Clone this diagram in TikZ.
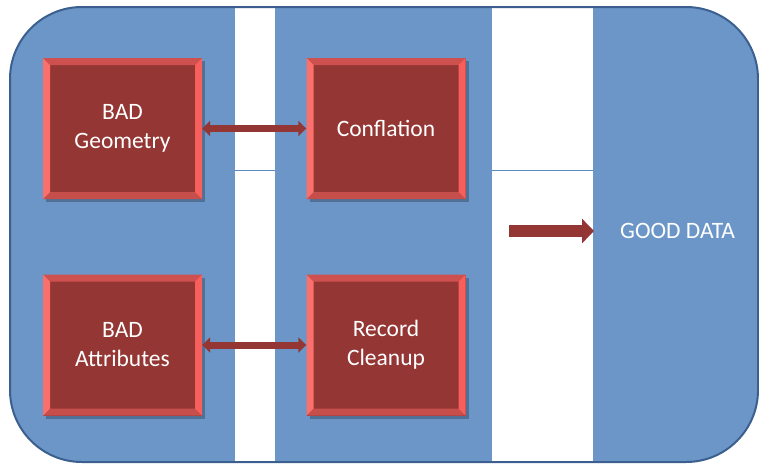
\documentclass[tikz,border=0pt]{standalone}
\usepackage{fontspec}
\setmainfont{Carlito}
\usetikzlibrary{arrows.meta,shadows}
\definecolor{bgblue}{RGB}{107,150,199}
\definecolor{edgeblue}{RGB}{59,95,142}
\definecolor{lineblue}{RGB}{91,139,197}
\definecolor{inred}{RGB}{148,54,52}
\definecolor{toptrap}{RGB}{207,81,79}
\definecolor{bottrap}{RGB}{198,78,75}
\definecolor{lefttrap}{RGB}{250,112,108}
\definecolor{righttrap}{RGB}{247,95,92}
\definecolor{arrred}{RGB}{148,54,52}
\tikzset{
  bevelbox/.style={
    minimum width=159pt, minimum height=141pt, inner sep=0pt,
    fill=inred, text=white, align=center,
    font=\fontsize{23.5}{29}\selectfont,
    drop shadow={shadow xshift=3pt, shadow yshift=-3pt, opacity=0.25, fill=black},
    path picture={
      \def\bw{7pt}
      \coordinate (NW) at (path picture bounding box.north west);
      \coordinate (NE) at (path picture bounding box.north east);
      \coordinate (SW) at (path picture bounding box.south west);
      \coordinate (SE) at (path picture bounding box.south east);
      \fill[toptrap] (NW) -- (NE) -- ([shift={(-\bw,-\bw)}]NE) -- ([shift={(\bw,-\bw)}]NW) -- cycle;
      \fill[bottrap] (SW) -- (SE) -- ([shift={(-\bw,\bw)}]SE) -- ([shift={(\bw,\bw)}]SW) -- cycle;
      \fill[lefttrap] (NW) -- (SW) -- ([shift={(\bw,\bw)}]SW) -- ([shift={(\bw,-\bw)}]NW) -- cycle;
      \fill[righttrap] (NE) -- (SE) -- ([shift={(-\bw,\bw)}]SE) -- ([shift={(-\bw,-\bw)}]NE) -- cycle;
    }
  },
  dblarrow/.style={arrred, line width=7pt,
    {Triangle[width=15pt,length=8pt]}-{Triangle[width=15pt,length=8pt]}, shorten <=0pt, shorten >=0pt},
  bigarrow/.style={arrred, line width=12pt, -{Triangle[width=24pt,length=12pt]}},
  whitestrip/.style={fill=white, draw=none},
  thinline/.style={lineblue, line width=1pt},
  lbl/.style={text=white, font=\fontsize{23.5}{29}\selectfont, inner sep=0pt}
}
\begin{document}
\begin{tikzpicture}[x=1pt,y=-1pt]
\useasboundingbox (0,0) rectangle (759,464);
\begin{scope}
\clip (0,0) rectangle (759,464);
\fill[bgblue, rounded corners=72pt] (10,7) rectangle (758,462);
\fill[whitestrip] (235,8) rectangle (275,461);
\fill[whitestrip] (492,8) rectangle (593,461);
\draw[thinline] (235,170) -- (275,170);
\draw[thinline] (492,170) -- (593,170);
\draw[edgeblue, line width=2pt, rounded corners=72pt] (10,7) rectangle (758,462);
\end{scope}

\node[bevelbox] (geo) at (122.5,128.5) {BAD\\Geometry};
\node[bevelbox] (conf) at (386,128.5) {Conflation};
\node[bevelbox] (attr) at (122.5,345) {BAD\\Attributes};
\node[bevelbox] (rec) at (386,345) {Record\\Cleanup};

\draw[dblarrow] (geo.east) -- (conf.west);
\draw[dblarrow] (attr.east) -- (rec.west);

\coordinate (gs) at (509,231);
\coordinate (ge) at (594,231);
\draw[bigarrow] (gs) -- (ge);
\node[lbl, anchor=west] (good) at (620,231) {GOOD DATA};
\end{tikzpicture}
\end{document}
